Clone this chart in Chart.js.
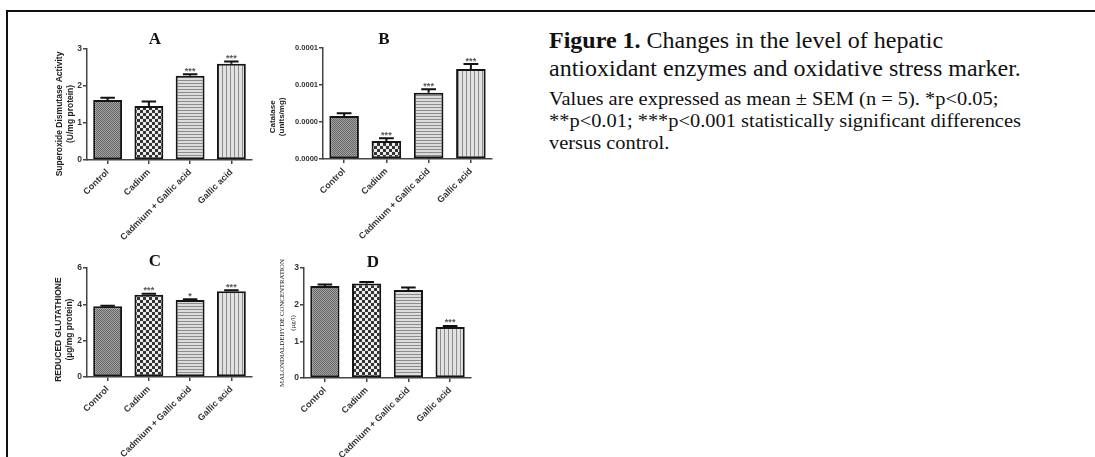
<!DOCTYPE html>
<html>
<head>
<meta charset="utf-8">
<script src="https://cdn.jsdelivr.net/npm/chart.js@4.4.1/dist/chart.umd.min.js"></script>
<style>
body{margin:0;background:#fff;width:1095px;height:457px;overflow:hidden;position:relative}
.frameTop{position:absolute;left:6px;top:10px;width:1089px;height:2px;background:#111}
.frameLeft{position:absolute;left:6px;top:10px;width:2px;height:447px;background:#111}
canvas{position:absolute}
#cap{position:absolute;left:549px;top:0;font-family:"Liberation Serif",serif;color:#111;white-space:nowrap}
#cap div{position:absolute;left:0;transform-origin:0 50%}
#cap .big{font-size:24px;line-height:28px}
#cap .small{font-size:19px;line-height:22px;transform:scaleX(1.075)}
</style>
</head>
<body>
<div class="frameTop"></div>
<div class="frameLeft"></div>
<canvas id="cA"></canvas>
<canvas id="cB"></canvas>
<canvas id="cC"></canvas>
<canvas id="cD"></canvas>
<div id="cap">
  <div class="big" style="top:26px"><b>Figure 1.</b> Changes in the level of hepatic</div>
  <div class="big" style="top:54px">antioxidant enzymes and oxidative stress marker.</div>
  <div class="small" style="top:88px">Values are expressed as mean ± SEM (n = 5). *p&lt;0.05;</div>
  <div class="small" style="top:110px">**p&lt;0.01; ***p&lt;0.001 statistically significant differences</div>
  <div class="small" style="top:132px">versus control.</div>
</div>
<script>
// groups on the x axis (same in all four panels)
var groups = ['Control', 'Cadium', 'Cadmium + Gallic acid', 'Gallic acid'];

// A - superoxide dismutase
var sodMean = [1.62, 1.46, 2.28, 2.60];
var sodSem = [0.06, 0.12, 0.04, 0.06];
var sodStars = ['', '', '***', '***'];
var sodTicks = [0, 1, 2, 3];

// B - catalase
var catMean = [0.0000465, 0.0000195, 0.0000717, 0.0000973];
var catSem = [0.0000029, 0.0000029, 0.0000036, 0.0000054];
var catStars = ['', '***', '***', '***'];
var catTicks = [0, 0.00004, 0.00008, 0.00012];

// C - reduced glutathione
var gshMean = [3.89, 4.53, 4.24, 4.72];
var gshSem = [0.03, 0.05, 0.04, 0.06];
var gshStars = ['', '***', '*', '***'];
var gshTicks = [0, 2, 4, 6];

// D - malondialdehyde
var mdaMean = [2.51, 2.58, 2.40, 1.39];
var mdaSem = [0.04, 0.04, 0.07, 0.03];
var mdaStars = ['', '', '', '***'];
var mdaTicks = [0, 1, 2, 3];

function makePattern(w, h, draw) {
	var c = document.createElement('canvas');
	c.width = w; c.height = h;
	var g = c.getContext('2d');
	draw(g);
	return document.createElement('canvas').getContext('2d').createPattern(c, 'repeat');
}

var fills = [
	makePattern(2, 2, function(g) {
		g.fillStyle = '#a4a4a4'; g.fillRect(0, 0, 2, 2);
		g.fillStyle = '#666'; g.fillRect(0, 0, 1, 1); g.fillRect(1, 1, 1, 1);
	}),
	makePattern(6, 6, function(g) {
		g.fillStyle = '#ececec'; g.fillRect(0, 0, 6, 6);
		g.fillStyle = '#333'; g.fillRect(0, 0, 3, 3); g.fillRect(3, 3, 3, 3);
	}),
	makePattern(1, 3, function(g) {
		g.fillStyle = '#dcdcdc'; g.fillRect(0, 0, 1, 3);
		g.fillStyle = '#8c8c8c'; g.fillRect(0, 0, 1, 1);
	}),
	makePattern(4, 1, function(g) {
		g.fillStyle = '#e2e2e2'; g.fillRect(0, 0, 4, 1);
		g.fillStyle = '#8c8c8c'; g.fillRect(0, 0, 1, 1);
	})
];

// error bars, significance stars and panel letter
var extras = {
	id: 'extras',
	afterDatasetsDraw: function(chart, args, o) {
		var ctx = chart.ctx, y = chart.scales.y, area = chart.chartArea;
		var meta = chart.getDatasetMeta(0);
		ctx.save();
		ctx.strokeStyle = '#111';
		ctx.lineWidth = 2;
		meta.data.forEach(function(bar, i) {
			var top = y.getPixelForValue(o.mean[i] + o.sem[i]);
			var half = bar.width * 0.25;
			ctx.beginPath();
			ctx.moveTo(bar.x, bar.y);
			ctx.lineTo(bar.x, top);
			ctx.moveTo(bar.x - half, top);
			ctx.lineTo(bar.x + half, top);
			ctx.stroke();
			if (o.stars[i]) {
				ctx.fillStyle = '#555';
				ctx.font = 'bold 9px "Liberation Sans"';
				ctx.textAlign = 'center';
				ctx.textBaseline = 'alphabetic';
				ctx.fillText(o.stars[i], bar.x, top - 0.5);
			}
		});
		ctx.fillStyle = '#111';
		ctx.font = 'bold 17px "Liberation Serif"';
		ctx.textAlign = 'center';
		ctx.textBaseline = 'middle';
		ctx.fillText(o.letter, area.left + o.letterDx, area.top - o.letterDy);
		ctx.restore();
	}
};

function panel(id, box, area, mean, sem, stars, ticks, yTitle, titleFont, titlePad, tickSize, letter, letterDx, letterDy, fmt) {
	var cv = document.getElementById(id);
	cv.width = box.r - box.l;
	cv.height = box.b - box.t;
	cv.style.left = box.l + 'px';
	cv.style.top = box.t + 'px';
	var yW = area.l - box.l;
	var xH = box.b - area.b;
	return new Chart(cv, {
		type: 'bar',
		data: {
			labels: groups,
			datasets: [{
				data: mean,
				backgroundColor: fills,
				borderColor: '#151515',
				borderWidth: 2,
				borderSkipped: false,
				barPercentage: 0.7,
				categoryPercentage: 1
			}]
		},
		options: {
			responsive: false,
			animation: false,
			devicePixelRatio: 1,
			layout: {padding: {left: 0, bottom: 0, top: area.t - box.t, right: box.r - area.r}},
			plugins: {
				legend: {display: false},
				tooltip: {enabled: false},
				extras: {mean: mean, sem: sem, stars: stars, letter: letter, letterDx: letterDx, letterDy: letterDy}
			},
			scales: {
				x: {
					grid: {display: true, drawOnChartArea: false, offset: false, tickLength: 4, color: '#444', lineWidth: 1.5},
					border: {color: '#444', width: 1.5},
					ticks: {minRotation: 45, maxRotation: 45, autoSkip: false, padding: 3, color: '#333',
						font: {family: 'Liberation Sans', size: 9, weight: 'bold'}},
					afterFit: function(s) { s.height = xH; }
				},
				y: {
					min: ticks[0],
					max: ticks[ticks.length - 1],
					afterBuildTicks: function(s) { s.ticks = ticks.map(function(v) { return {value: v}; }); },
					grid: {display: true, drawOnChartArea: false, tickLength: 4, color: '#444', lineWidth: 1.5},
					border: {color: '#444', width: 1.5},
					ticks: {padding: 1, color: '#333', font: {family: 'Liberation Sans', size: tickSize, weight: 'bold'},
						callback: function(v) { return fmt ? v.toFixed(4) : v; }},
					title: {display: true, text: yTitle, color: '#222', font: titleFont, padding: {top: titlePad, bottom: 0}},
					afterFit: function(s) { s.width = yW; }
				}
			}
		},
		plugins: [extras]
	});
}

// trailing spaces lift the axis titles above the axis centre, as in the figure
panel('cA', {l: 50, t: 20, r: 262, b: 250}, {l: 87, t: 49, r: 252, b: 160},
	sodMean, sodSem, sodStars, sodTicks,
	['Superoxide Dismutase Activity        ', '(U/mg protein)        '],
	{family: 'Liberation Sans', size: 8.5, weight: 'bold', lineHeight: 1.2}, 5, 8.5, 'A', 68, 9, false);

panel('cB', {l: 266, t: 20, r: 502, b: 250}, {l: 323, t: 48, r: 492, b: 159},
	catMean, catSem, catStars, catTicks,
	['Catalase            ', '(units/mg)            '],
	{family: 'Liberation Sans', size: 8, weight: 'bold', lineHeight: 1.1}, 2.6, 7.5, 'B', 61, 8, true);

panel('cC', {l: 50, t: 240, r: 262, b: 457}, {l: 87, t: 268, r: 252, b: 377},
	gshMean, gshSem, gshStars, gshTicks,
	['REDUCED GLUTATHIONE      ', '(µg/mg protein)      '],
	{family: 'Liberation Sans', size: 8.5, weight: 'bold', lineHeight: 1.2}, 4, 8.5, 'C', 68, 6, false);

panel('cD', {l: 272, t: 240, r: 481, b: 457}, {l: 304, t: 268, r: 471, b: 378},
	mdaMean, mdaSem, mdaStars, mdaTicks,
	['MALONDIALDEHYDE CONCENTRATION', '(µg/l)'],
	{family: 'Liberation Serif', size: 6.8, lineHeight: 1.6}, 4.5, 8.5, 'D', 69, 5, false);
</script>
</body>
</html>
